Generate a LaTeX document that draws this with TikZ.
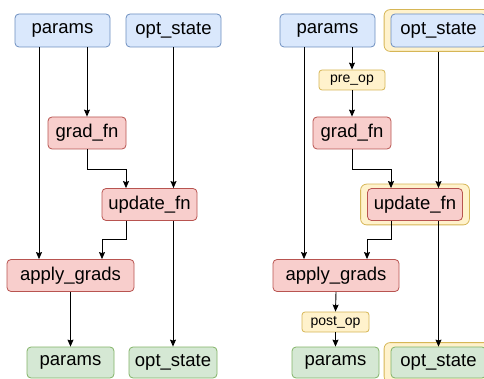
\documentclass[tikz,border=0pt]{standalone}
\usepackage{fontspec}
\setmainfont{Liberation Sans}
\usetikzlibrary{arrows.meta,fit,backgrounds}
\definecolor{inblue}{HTML}{DAE8FC}
\definecolor{inblueline}{HTML}{6C8EBF}
\definecolor{fnred}{HTML}{F8CECC}
\definecolor{fnredline}{HTML}{B85450}
\definecolor{outgreen}{HTML}{D5E8D4}
\definecolor{outgreenline}{HTML}{82B366}
\definecolor{opyellow}{HTML}{FFF2CC}
\definecolor{opyellowline}{HTML}{D6B656}
\tikzset{
	box/.style={rounded corners=4pt, line width=0.8pt, inner sep=0pt, font=\fontsize{18.5}{20}\selectfont},
	inbox/.style={box, fill=inblue, draw=inblueline, minimum width=95, minimum height=33},
	fnbox/.style={box, fill=fnred, draw=fnredline, minimum height=32},
	outbox/.style={box, fill=outgreen, draw=outgreenline, minimum height=31},
	opbox/.style={rounded corners=3pt, line width=0.8pt, inner sep=0pt, fill=opyellow, draw=opyellowline, minimum height=20, font=\fontsize{14}{15}\selectfont},
	wrapbox/.style={rounded corners=6pt, line width=0.8pt, fill=opyellow, draw=opyellowline, inner xsep=6.5, inner ysep=4},
	arr/.style={line width=0.9pt, -{Stealth[length=7pt,width=6pt,inset=1pt]}}
}

\begin{document}
\begin{tikzpicture}[x=1pt, y=-1pt]
		%%%%% START %%%%%
		\useasboundingbox (0, 0) rectangle (484, 379);
		
		% left: plain step
		\node[inbox] (p1) at (62.5, 30.5) {params};
		\node[inbox] (s1) at (173.5, 30.5) {opt\_state};
		\node[fnbox, minimum width=78] (g1) at (87, 133) {grad\_fn};
		\node[fnbox, minimum width=95] (u1) at (149.5, 204.5) {update\_fn};
		\node[fnbox, minimum width=127] (a1) at (70.5, 275.5) {apply\_grads};
		\node[outbox, minimum width=87] (q1) at (70.5, 362.5) {params};
		\node[outbox, minimum width=88] (t1) at (173, 362.5) {opt\_state};
		
		\draw[arr] ([xshift=-23.5]p1.south) -- ([xshift=-23.5]p1.south |- a1.north);
		\draw[arr] (g1.north |- p1.south) -- (g1.north);
		\draw[arr] (s1.south) -- (s1.south |- u1.north);
		\draw[arr] (g1.south) -- ++(0, 20) -| ([xshift=-23.5]u1.north);
		\draw[arr] ([xshift=-23.5]u1.south) -- ++(0, 19) -| ([xshift=31.5]a1.north);
		\draw[arr] (t1.north |- u1.south) -- (t1.north);
		\draw[arr] (a1.south) -- (q1.north);
		
		% right: step with pre_op / post_op
		\node[inbox] (p2) at (327.5, 30.5) {params};
		\node[inbox] (s2) at (438.5, 30.5) {opt\_state};
		\node[opbox, minimum width=66] (e2) at (352, 80) {pre\_op};
		\node[fnbox, minimum width=78] (g2) at (352, 133) {grad\_fn};
		\node[fnbox, minimum width=95] (u2) at (415, 204.5) {update\_fn};
		\node[fnbox, minimum width=126] (a2) at (336, 275.5) {apply\_grads};
		\node[opbox, minimum width=67] (f2) at (335.5, 322) {post\_op};
		\node[outbox, minimum width=87] (q2) at (335.5, 362.5) {params};
		\node[outbox, minimum width=95] (t2) at (438.5, 362.5) {opt\_state};
		
		\begin{pgfonlayer}{background}
			\node[wrapbox, fit=(s2)] (s2w) {};
			\node[wrapbox, fit=(u2)] (u2w) {};
			\node[wrapbox, fit=(t2)] (t2w) {};
		\end{pgfonlayer}
		
		\draw[arr] ([xshift=-23.5]p2.south) -- ([xshift=-23.5]p2.south |- a2.north);
		\draw[arr] (e2.north |- p2.south) -- (e2.north);
		\draw[arr] (e2.south) -- (g2.north);
		\draw[arr] (s2w.south) -- (s2w.south |- u2.north);
		\draw[arr] (g2.south) -- ++(0, 20) -| ([xshift=-24]u2.north);
		\draw[arr] ([xshift=-24]u2.south) -- ++(0, 19) -| ([xshift=31]a2.north);
		\draw[arr] (t2.north |- u2.south) -- (t2.north);
		\draw[arr] (a2.south) -- (f2.north);
		\draw[arr] (f2.south) -- (q2.north);
		
		%%%%% END %%%%%
\end{tikzpicture}
\end{document}
